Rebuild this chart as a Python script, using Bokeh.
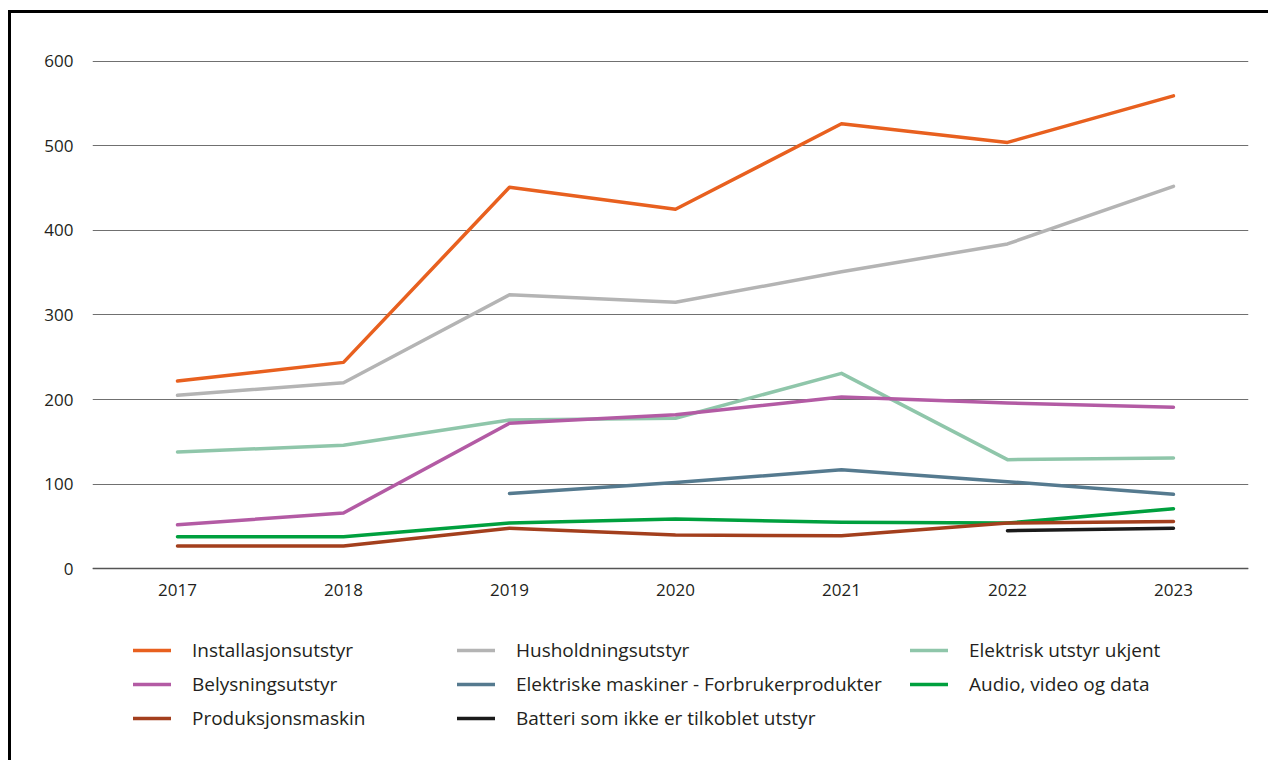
from bokeh.plotting import figure
from bokeh.models import Legend, LegendItem, FixedTicker, Range1d
from bokeh.embed import file_html
from bokeh.resources import INLINE

years = [2017, 2018, 2019, 2020, 2021, 2022, 2023]
installasjon = [222, 244, 451, 425, 526, 504, 559]
husholdning = [205, 220, 324, 315, 351, 384, 452]
ukjent = [138, 146, 176, 178, 231, 129, 131]
belysning = [52, 66, 172, 182, 203, 196, 191]
maskiner_years = [2019, 2020, 2021, 2022, 2023]
maskiner = [89, 102, 117, 103, 88]
audio = [38, 38, 54, 59, 55, 54, 71]
produksjon = [27, 27, 48, 40, 39, 54, 56]
batteri_years = [2022, 2023]
batteri = [45, 48]
y_ticks = [0, 100, 200, 300, 400, 500, 600]

FONT = "Open Sans"
TXT = "#231f20"

PX_PER_UNIT = 0.846
FRAME_H = 698
Y_TOP = 602
Y_BOTTOM = Y_TOP - FRAME_H / PX_PER_UNIT

p = figure(frame_width=1156, frame_height=FRAME_H, output_backend="svg", toolbar_location=None,
           x_range=Range1d(2016.488, 2023.452), y_range=Range1d(Y_BOTTOM, Y_TOP),
           min_border_left=81, min_border_right=20, min_border_top=46, min_border_bottom=3,
           styles={"border-top": "3px solid black", "border-left": "3px solid black",
                   "margin-top": "10px", "margin-left": "8px"})
p.outline_line_color = None
p.background_fill_color = "white"

p.xgrid.grid_line_color = None
p.ygrid.grid_line_color = "#707070"
p.ygrid.grid_line_width = 1
p.ygrid.ticker = FixedTicker(ticks=y_ticks)

p.yaxis.ticker = FixedTicker(ticks=y_ticks)
p.yaxis.axis_line_color = None
p.yaxis.major_tick_line_color = None
p.yaxis.minor_tick_line_color = None
p.yaxis.major_label_standoff = 13
p.yaxis.major_label_text_font = FONT
p.yaxis.major_label_text_font_size = "17px"
p.yaxis.major_label_text_color = TXT

p.xaxis.ticker = FixedTicker(ticks=years)
p.xaxis.fixed_location = 0
p.xaxis.axis_line_color = "#555555"
p.xaxis.axis_line_width = 1.5
p.xaxis.major_tick_line_color = None
p.xaxis.minor_tick_line_color = None
p.xaxis.major_label_standoff = 9
p.xaxis.major_label_text_font = FONT
p.xaxis.major_label_text_font_size = "17px"
p.xaxis.major_label_text_color = TXT

LW = 3.5
series = [
    ("Installasjonsutstyr", years, installasjon, "#e8601f"),
    ("Husholdningsutstyr", years, husholdning, "#b4b4b4"),
    ("Elektrisk utstyr ukjent", years, ukjent, "#8fc6aa"),
    ("Belysningsutstyr", years, belysning, "#b35ba4"),
    ("Elektriske maskiner - Forbrukerprodukter", maskiner_years, maskiner, "#557a8f"),
    ("Audio, video og data", years, audio, "#00a03e"),
    ("Produksjonsmaskin", years, produksjon, "#a33f1d"),
    ("Batteri som ikke er tilkoblet utstyr", batteri_years, batteri, "#1a1a1a"),
]
renderers = {}
for name, xs, ys, col in series:
    r = p.line(xs, ys, line_color=col, line_width=LW, line_cap="round", line_join="round")
    renderers[name] = r

columns = [
    (["Installasjonsutstyr", "Belysningsutstyr", "Produksjonsmaskin"], 41, 26),
    (["Husholdningsutstyr", "Elektriske maskiner - Forbrukerprodukter",
      "Batteri som ikke er tilkoblet utstyr"], 365, 26),
    (["Elektrisk utstyr ukjent", "Audio, video og data"], 818, 60),
]
for names, lx, ly in columns:
    leg = Legend(items=[LegendItem(label=n, renderers=[renderers[n]]) for n in names],
                 location=(lx, ly), orientation="vertical")
    leg.border_line_color = None
    leg.background_fill_alpha = 0
    leg.padding = 0
    leg.margin = 0
    leg.spacing = 8
    leg.glyph_width = 38
    leg.glyph_height = 20
    leg.label_height = 20
    leg.label_standoff = 21
    leg.label_text_font = FONT
    leg.label_text_font_size = "19px"
    leg.label_text_color = TXT
    leg.label_text_baseline = "middle"
    p.add_layout(leg, "center")

open("out.html", "w").write(file_html(p, INLINE))
